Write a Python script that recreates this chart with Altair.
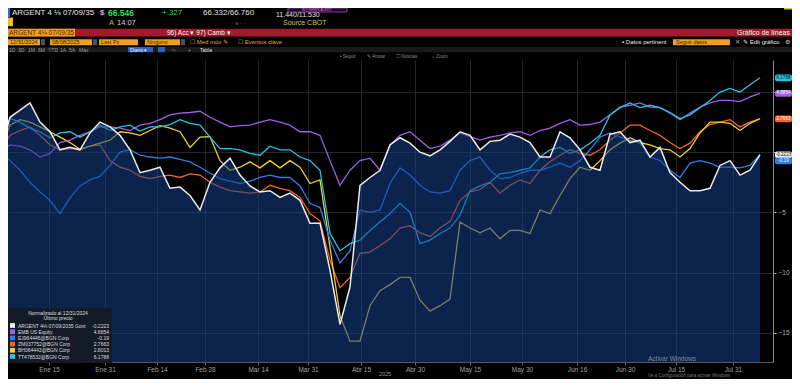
import altair as alt
import pandas as pd

FONT = "Liberation Sans"

# ---------------- data: % change, normalised at 12/31/2024, sampled ~every 2 sessions -------------
sample_idx = list(range(77))

argent = [0, 2.9, 3.5, 4.1, 2.5, 1.7, 0.2, 0.4, 0.2, 1.6,
          2.5, 2.1, 1.4, 0.2, -1.7, -1.5, -1.25, -3.0, -2.9, -3.6,
          -4.8, -2.5, -1.3, -0.5, -1.9, -2.8, -3.3, -3.2, -3.75, -3.4,
          -4.0, -5.9, -5.9, -9.8, -14.3, -11.2, -2.75, -2.1, -1.5, 0.6,
          1.2, 0.75, 0.0, -0.3, 0.2, 0.9, 1.7, 1.4, 0.2, 0.9,
          1.0, 1.5, 1.25, 0.8, -0.4, -0.4, 1.7, 1.2, 0.2, -1.25,
          -1.5, 1.5, 1.7, 0.8, 1.0, -0.4, 0.4, -1.7, -2.5, -3.2,
          -3.2, -3.0, -1.1, -0.7, -1.9, -1.5, -0.22]
emb = [0, 0.6, 0.5, 0.2, -0.4, -0.1, 0.8, 1.0, 1.4, 1.7,
       2.1, 2.1, 2.0, 1.8, 2.25, 2.4, 2.7, 3.1, 3.25, 3.3,
       3.4, 2.9, 2.5, 2.1, 2.2, 2.25, 2.5, 2.7, 2.5, 2.25,
       1.7, 1.7, 1.4, -0.7, -2.75, -1.5, -0.7, -0.5, -1.5, 0.6,
       1.4, 1.7, 1.0, 0.3, 0.5, 1.0, 1.6, 1.3, 1.0, 1.25,
       1.4, 1.6, 1.7, 1.4, 1.8, 2.0, 2.4, 2.7, 2.25, 2.3,
       2.5, 3.1, 3.75, 3.9, 4.1, 3.75, 3.7, 3.25, 2.7, 3.25,
       3.75, 4.1, 4.3, 4.3, 4.2, 4.6, 4.89]
blue_bond = [0, -0.7, -1.5, -2.5, -3.3, -4.0, -5.1, -3.8, -2.8, -2.3,
             -2.0, -1.1, 0.0, 0.2, -0.25, -0.4, -0.5, -0.4, -0.6, -0.8,
             -1.25, -1.75, -2.2, -2.4, -2.6, -2.4, -2.1, -1.9, -2.1, -2.1,
             -2.8, -4.25, -4.6, -7.3, -9.2, -8.2, -4.8, -5.0, -4.8, -2.6,
             -1.3, -1.9, -2.75, -3.3, -3.4, -3.2, -1.5, -0.7, -0.4, -1.5,
             -2.2, -2.1, -1.75, -1.5, -1.5, -1.25, -0.9, -1.25, -0.7, 0.2,
             1.25, 1.6, 1.25, 1.0, 0.75, -0.4, -0.7, -1.5, -2.1, -0.9,
             -0.7, -0.9, -1.25, -1.25, -1.3, -1.1, -0.19]
orange_bond = [0, 1.4, 1.8, 2.1, 1.4, 0.6, 0.2, 0.3, 0.2, 0.5,
               0.6, -0.7, -1.25, -1.5, -2.0, -2.2, -2.0, -1.9, -2.1, -1.8,
               -1.9, -2.5, -2.9, -3.2, -3.3, -3.4, -3.3, -2.75, -3.0, -3.2,
               -3.75, -5.1, -5.7, -9.0, -11.25, -10.4, -8.4, -8.3, -7.75, -7.2,
               -6.3, -6.1, -6.7, -7.0, -6.3, -5.75, -4.0, -3.3, -3.1, -2.5,
               -3.4, -2.75, -2.3, -2.6, -1.5, -0.8, -0.25, 0.2, -0.1, -0.25,
               0.2, 1.0, 1.6, 2.25, 2.25, 1.8, 1.4, 0.8, 0.3, 0.75,
               1.7, 2.3, 2.5, 2.7, 2.1, 2.5, 2.77]
yellow_bond = [0, 2.25, 2.7, 2.5, 2.1, 1.7, 1.25, 0.8, 0.25, 0.5,
               0.75, 1.0, 1.7, 1.6, 1.4, 1.8, 2.2, 2.0, 1.7, 0.4,
               1.25, 1.3, -0.7, -1.5, -1.25, -0.8, -1.3, -0.7, -1.3, -0.7,
               -1.25, -2.6, -2.3, -7.9, -13.6, -15.7, -15.7, -12.75, -11.5, -11.0,
               -10.4, -10.4, -12.3, -13.2, -12.75, -12.2, -5.8, -6.3, -6.7, -6.3,
               -7.2, -6.5, -6.5, -6.75, -4.8, -5.1, -3.6, -2.2, -1.25, -1.5,
               -0.7, 0.2, 0.75, 1.2, 0.8, 0.6, 0.3, 0.2, -0.4, 0.3,
               1.6, 2.5, 2.5, 2.4, 1.8, 2.4, 2.8]
cyan_bond = [0, 2.8, 2.5, 2.0, 1.7, 1.2, 1.6, 1.7, 1.25, 1.7,
             2.25, 1.8, 2.1, 2.25, 1.75, 2.1, 2.1, 2.3, 2.7, 2.4,
             2.25, 1.25, 0.3, 0.3, 0.2, -0.1, -0.25, 0.5, 0.2, 0.2,
             -0.4, -0.7, -1.5, -6.75, -8.2, -7.6, -7.3, -6.5, -5.8, -5.1,
             -4.25, -5.0, -7.6, -7.3, -6.75, -6.3, -5.25, -3.2, -2.8, -2.5,
             -1.8, -1.7, -1.5, -1.3, -0.4, 0.2, 0.4, -0.1, 0.2, 0.75,
             1.4, 3.1, 3.7, 4.1, 3.7, 3.9, 3.7, 3.3, 2.8, 3.1,
             3.7, 4.3, 5.0, 5.3, 5.0, 5.6, 6.18]

series_names = ["ARGENT 4⅛ 07/09/2035 Govt", "EMB US Equity", "EJ964446@BGN Corp",
                "ZM037752@BGN Corp", "BH064443@BGN Corp", "TT478532@BGN Corp"]
series_colors = ["#ececec", "#a15ee6", "#2f7fe8", "#f26522", "#efd02c", "#22c6e4"]
last_price = ["-0.2223", "4.8854", "-0.19", "2.7663", "2.8013", "6.1788"]
series_values = [argent, emb, blue_bond, orange_bond, yellow_bond, cyan_bond]

x_tick_pos = [4.9, 10.5, 15.7, 20.5, 25.8, 30.8, 36.1, 41.5, 47.0, 52.2, 57.7, 62.5, 67.6, 73.3]
x_tick_lab = ["Ene 15", "Ene 31", "Feb 14", "Feb 28", "Mar 14", "Mar 31", "Abr 15", "Abr 30",
              "May 15", "May 30", "Jun 16", "Jun 30", "Jul 15", "Jul 31"]
y_ticks = [5, 0, -5, -10, -15]
y_min, y_max = -17.43, 7.66

long = pd.DataFrame([
    {"i": i, "v": v, "s": n}
    for n, vals in zip(series_names, series_values)
    for i, v in zip(sample_idx, vals)
])

# ---------------- scales / axes ----------------
label_expr = ("[" + ",".join("'%s'" % l for l in x_tick_lab) + "][indexof(["
              + ",".join(str(p) for p in x_tick_pos) + "], datum.value)]")
x_scale = alt.Scale(domain=[0.8, 77.3], nice=False, zero=False)
y_scale = alt.Scale(domain=[y_min, y_max], nice=False, zero=False)
x_axis = alt.Axis(values=x_tick_pos, labelExpr=label_expr, title=None, grid=True,
                  gridColor="#363636", gridWidth=0.7, domainColor="#5a5a5a", tickColor="#6a6a6a",
                  tickSize=3, labelColor="#a0a0a0", labelFont=FONT, labelFontSize=6.5,
                  labelPadding=1, labelFlush=False, labelOverlap=False)
y_axis = alt.Axis(orient="right", values=y_ticks, labelExpr="datum.value < 0 ? datum.label : ''",
                  title=None, grid=True, gridColor="#363636", gridWidth=0.7, domainColor="#8c8c8c",
                  tickColor="#b0b0b0", tickSize=3, labelColor="#b0b0b0", labelFont=FONT,
                  labelFontSize=6.5, labelPadding=2)


def X(f):
    return alt.X(f, type="quantitative", scale=x_scale, axis=x_axis)


def Y(f):
    return alt.Y(f, type="quantitative", scale=y_scale, axis=y_axis)


def series_line(k, width=1.3):
    return (alt.Chart(long).transform_filter(alt.datum.s == series_names[k])
            .mark_line(color=series_colors[k], strokeWidth=width)
            .encode(x=X("i"), y=Y("v")))


area = (alt.Chart(long).transform_filter(alt.datum.s == series_names[0])
        .transform_calculate(base=str(y_min))
        .mark_area(color="#16408c", opacity=0.55)
        .encode(x=X("i"), y=Y("v"), y2=alt.Y2("base")))

# ---------------- decoration helpers ----------------
blank = pd.DataFrame({"k": [0]})


def txt(s, x, y, color="#d8d8d8", size=7, align="left", weight="normal"):
    return (alt.Chart(blank)
            .mark_text(text=s, align=align, baseline="middle", color=color, fontSize=size,
                       fontWeight=weight, font=FONT)
            .encode(x=alt.value(x), y=alt.value(y)))


def box(x1, x2, y1, y2, fill, stroke=None, r=0):
    kw = dict(color=fill, cornerRadius=r)
    if stroke:
        kw.update(stroke=stroke, strokeWidth=0.8)
    return (alt.Chart(blank).mark_rect(**kw)
            .encode(x=alt.value(x1), x2=alt.value(x2), y=alt.value(y1), y2=alt.value(y2)))


deco = []
# row 1 : quote line
deco += [box(0, 2, -52, -43, "#2a6fdb"),
         txt("ARGENT 4 ⅛ 07/09/35", 4, -47.5, "#e8e8e8", 8),
         txt("$", 92, -47.5, "#e8e8e8", 8),
         txt("66.546", 100, -47.5, "#3ddc5a", 8.5, weight="bold"),
         txt("+.327", 154, -47.5, "#3ddc5a", 8),
         txt("66.332/66.760", 195, -47.5, "#e0e0e0", 8),
         txt("11.440/11.530", 268, -45, "#e0e0e0", 7),
         box(280, 339, -52, -48, "#1a0a22", stroke="#9b4dca"),
         txt("BQ:NEWS ALERT", 309, -50.2, "#e070c0", 3.6, align="center"),
         box(776, 784, -52, -50.5, "#e8c020")]
# row 2
deco += [box(0, 5, -42.5, -33.8, "#e8c020"),
         txt("A", 101, -37.5, "#f0a030", 7.5),
         txt("14:07", 109, -37.5, "#d0d0d0", 7.5),
         txt("· · x · ·", 220, -37.5, "#8a8a8a", 6),
         txt("Source CBOT", 275, -36.8, "#c8c47a", 7)]
# red title bar
deco += [box(0, 784, -31.2, -23.4, "#a01c2c"),
         box(0, 67, -31.2, -23.4, "#f0a020"),
         txt("ARGENT 4⅛ 07/09/35", 1, -27.3, "#4a2500", 6.5),
         txt("96) Acc ▾   97) Camb ▾", 159, -27.3, "#f2f2f2", 6.5),
         txt("Gráfico de líneas", 782, -27.3, "#f2f2f2", 7, align="right")]
# row 4 : inputs
for (a, b, s) in [(0, 32, "12/31/2024"), (42, 84, "08/08/2025"), (91, 130, "Last Px"),
                  (137, 172, "Ninguno")]:
    deco += [box(a, b, -20.8, -14.7, "#f0a020"), txt(s, a + 2, -17.7, "#3a2000", 5.5)]
for a in [33, 85, 173]:
    deco += [box(a, a + 4, -20.8, -14.7, "#505050")]
deco += [txt("☐ Med móv ✎", 182, -17.7, "#f0a020", 6),
         txt("☐ Eventos clave", 230, -17.7, "#f0a020", 6),
         txt("▪ Datos pertinent", 614, -17.7, "#e8e8e8", 6),
         box(665, 722, -20.8, -14.7, "#f0a020"),
         txt("Seguir datos", 668, -17.7, "#3a2000", 5.5),
         txt("✕", 727, -17.7, "#b0b0b0", 6),
         txt("✎ Edit gráfico", 735, -17.7, "#e8e8e8", 6),
         txt("⚙", 777, -17.7, "#d0d0d0", 6)]
# row 5 : period buttons
deco += [box(0, 784, -13, -7.8, "#1a1a1a")]
for s, xx in zip(["1D", "3D", "1M", "6M", "YTD", "1A", "5A", "Máx"],
                 [1, 10, 20, 30, 40, 52, 61, 71]):
    deco += [txt(s, xx, -10.4, "#9a9a9a", 5)]
deco += [box(120, 145, -13, -7.8, "#2a62c9"),
         txt("Diario ▾", 122, -10.4, "#f2f2f2", 5),
         box(150, 157, -13, -7.8, "#2a62c9"),
         txt("〜", 163, -10.4, "#9a9a9a", 5),
         txt("+", 180, -10.4, "#9a9a9a", 5),
         txt("Tabla", 192, -10.4, "#e0e0e0", 5)]
# row 6 : chart tools
deco += [txt("• Seguir", 332, -3.4, "#8a8a8a", 4.5),
         txt("✎ Anotar", 359, -3.4, "#8a8a8a", 4.5),
         txt("☐ Noticias", 388, -3.4, "#8a8a8a", 4.5),
         txt("⌕ Zoom", 424, -3.4, "#8a8a8a", 4.5)]

# legend box
leg = [box(0, 104, 248, 303, "#141b27"),
       txt("Normalizado al 12/31/2024", 50, 252.5, "#dcdcdc", 5, align="center"),
       txt("Último precio", 50, 258.2, "#dcdcdc", 5, align="center")]
for k in range(6):
    yy = 265.5 + 6.2 * k
    leg += [box(2, 7, yy - 2.4, yy + 2.4, series_colors[k]),
            txt(series_names[k], 10, yy, "#dcdcdc", 5),
            txt(last_price[k], 101, yy, "#dcdcdc", 5, align="right")]

# bottom texts
foot = [txt("2025", 377, 313.5, "#9a9a9a", 5.5, align="center"),
        txt("Activar Windows", 640, 298.5, "#8a8a8a", 6.5),
        txt("Ve a Configuración para activar Windows", 640, 315.5, "#7a7a7a", 4.5)]

# value tags on the right axis
tag_order = [5, 1, 3, 0, 2]
pos, prev = [], 1e9
for k in tag_order:
    p = min(series_values[k][-1], prev - 0.5)
    pos.append(p)
    prev = p
tags = pd.DataFrame({
    "pos": pos,
    "label": [last_price[k] for k in tag_order],
    "fill": [series_colors[k] for k in tag_order],
    "tc": ["#111111" if k in (0, 5) else "#ffffff" for k in tag_order],
})
tag_rect = (alt.Chart(tags)
            .transform_calculate(top="datum.pos + 0.28", bot="datum.pos - 0.28")
            .mark_rect(cornerRadius=2)
            .encode(x=alt.value(767), x2=alt.value(784), y=Y("top"), y2=alt.Y2("bot"),
                    color=alt.Color("fill:N", scale=None)))
tag_text = (alt.Chart(tags)
            .mark_text(fontSize=4.6, font=FONT, align="center", baseline="middle")
            .encode(x=alt.value(775.5), y=Y("pos"), text="label:N",
                    color=alt.Color("tc:N", scale=None)))

layers = ([series_line(3), series_line(4), series_line(2), series_line(1), series_line(5),
           area, series_line(0, 1.5), tag_rect, tag_text] + leg + foot + deco)

chart = (alt.layer(*layers)
         .properties(width=765, height=302,
                     autosize=alt.AutoSizeParams(type="none"),
                     padding={"left": 0, "top": 52, "right": 19, "bottom": 17},
                     background="#000000")
         .configure_view(stroke=None))

chart.save("out.html", embed_options={"renderer": "svg", "actions": False})
